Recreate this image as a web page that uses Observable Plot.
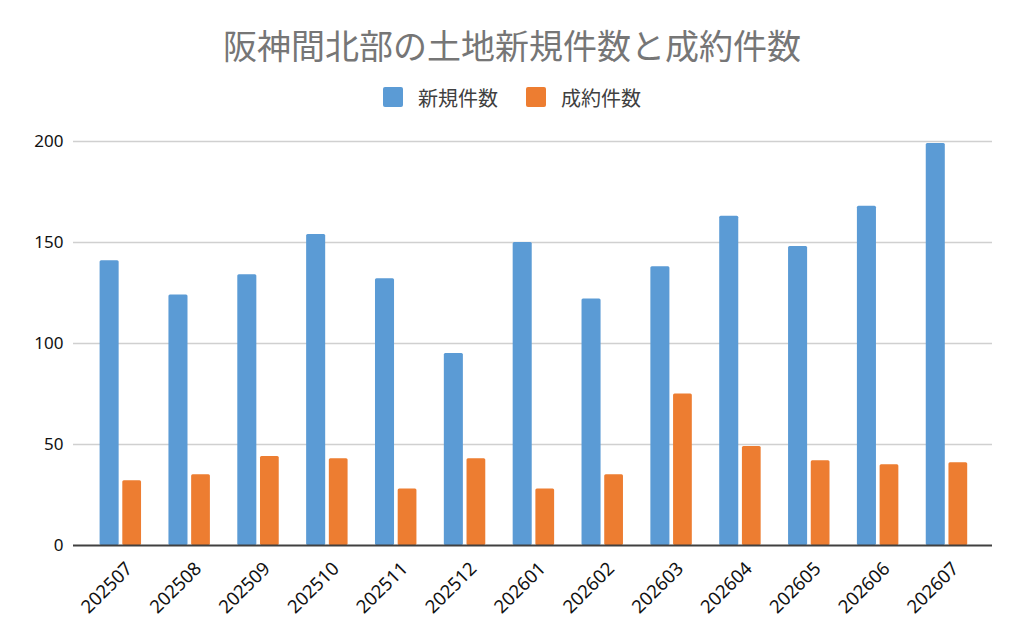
<!DOCTYPE html>
<html>
<head>
<meta charset="utf-8">
<script src="https://cdn.jsdelivr.net/npm/d3@7"></script>
<script src="https://cdn.jsdelivr.net/npm/@observablehq/plot@0.6"></script>
<style>
  html, body { margin: 0; padding: 0; background: #fff; }
  #wrap { position: relative; width: 1024px; height: 640px; font-family: "Noto Sans", "Noto Sans CJK JP", sans-serif; }
  #header { position: relative; height: 120px; }
  #title { position: absolute; left: 0; width: 1024px; top: 25px; height: 40px; line-height: 40px; text-align: center;
           font-family: "Noto Sans CJK JP", sans-serif; font-size: 34px; color: #767676; }
  #legend { position: absolute; left: 0; width: 1024px; top: 86px; height: 22px; display: flex; justify-content: center; align-items: center;
            font-family: "Noto Sans CJK JP", sans-serif; font-size: 20px; color: #404040; }
  .sw { width: 20px; height: 20px; border-radius: 2px; display: inline-block; margin-right: 15px; }
  .item { display: flex; align-items: center; margin: 0 14px; }
  #chart svg { display: block; }
</style>
</head>
<body>
<div id="wrap">
  <div id="header">
    <div id="title"></div>
    <div id="legend"></div>
  </div>
  <div id="chart"></div>
</div>
<script>
const title = "阪神間北部の土地新規件数と成約件数";
const months = ["202507","202508","202509","202510","202511","202512","202601","202602","202603","202604","202605","202606","202607"];
const seriesNames = ["新規件数", "成約件数"];
const newListings = [141, 124, 134, 154, 132, 95, 150, 122, 138, 163, 148, 168, 199];
const contracts   = [32, 35, 44, 43, 28, 43, 28, 35, 75, 49, 42, 40, 41];
const yTicks = [0, 50, 100, 150, 200];
const colors = ["#5B9BD5", "#ED7D31"];

document.getElementById("title").textContent = title;
const legend = document.getElementById("legend");
seriesNames.forEach((name, i) => {
  const item = document.createElement("div");
  item.className = "item";
  const sw = document.createElement("span");
  sw.className = "sw";
  sw.style.background = colors[i];
  const lab = document.createElement("span");
  lab.textContent = name;
  item.appendChild(sw);
  item.appendChild(lab);
  legend.appendChild(item);
});

const dataNew = months.map((m, i) => ({month: m, value: newListings[i]}));
const dataCon = months.map((m, i) => ({month: m, value: contracts[i]}));

const chart = Plot.plot({
  width: 1024,
  height: 520,
  marginTop: 21,
  marginBottom: 95,
  marginLeft: 73,
  marginRight: 32,
  style: { fontFamily: "'Noto Sans', sans-serif", fontSize: "17px", color: "#111", background: "#fff" },
  x: { domain: months, padding: 0, round: false, insetLeft: 13, insetRight: 11, label: null },
  y: { domain: [0, 200], label: null },
  marks: [
    Plot.ruleY(yTicks.filter(d => d > 0), { stroke: "#d0d0d0", strokeWidth: 1.5 }),
    Plot.barY(dataNew, { x: "month", y: "value", fill: colors[0], insetLeft: 13.6, insetRight: 36.2, rx: 1.5 }),
    Plot.barY(dataCon, { x: "month", y: "value", fill: colors[1], insetLeft: 36.3, insetRight: 13.8, rx: 1.5 }),
    Plot.ruleY([0], { stroke: "#404040", strokeWidth: 2 }),
    Plot.axisY({ ticks: yTicks, tickSize: 0, tickPadding: 10, fontSize: 17, label: null }),
    Plot.axisX({ tickSize: 0, tickPadding: 20, tickRotate: -45, fontSize: 18.5, dx: 8.5, label: null })
  ]
});
document.getElementById("chart").appendChild(chart);
</script>
</body>
</html>
